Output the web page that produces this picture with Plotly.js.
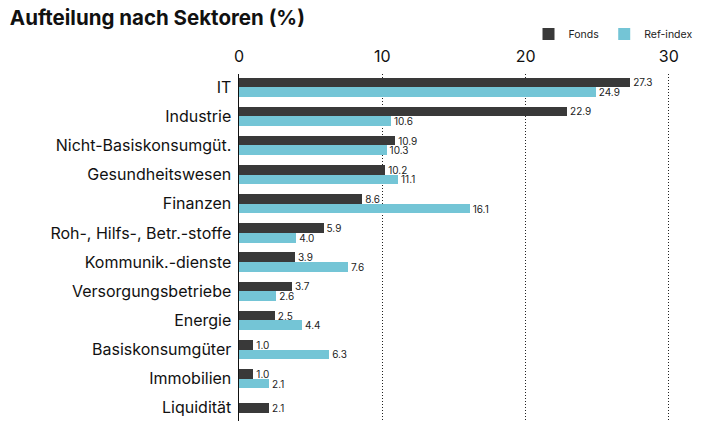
<!DOCTYPE html>
<html><head><meta charset="utf-8">
<script src="https://cdn.plot.ly/plotly-3.0.1.min.js"></script>
<style>body{margin:0;background:#fff}</style>
</head><body><div id="chart" style="width:704px;height:428px"></div>
<script>
const categories = ["IT","Industrie","Nicht-Basiskonsumgüt.","Gesundheitswesen","Finanzen","Roh-, Hilfs-, Betr.-stoffe","Kommunik.-dienste","Versorgungsbetriebe","Energie","Basiskonsumgüter","Immobilien","Liquidität"];
const fonds = [27.3,22.9,10.9,10.2,8.6,5.9,3.9,3.7,2.5,1.0,1.0,2.1];
const refIndex = [24.9,10.6,10.3,11.1,16.1,4.0,7.6,2.6,4.4,6.3,2.1,null];
const xTicks = [0,10,20,30];

const W = 0.33;
const fondsOffset = refIndex.map(v => v === null ? -W/2 : -W);
const refOffset = refIndex.map(() => 0);
const fmt = a => a.map(v => v === null ? '' : v.toFixed(1));

const font = "Inter, 'Liberation Sans', sans-serif";
const traces = [
  {type:'bar', orientation:'h', name:'Fonds', y:categories, x:fonds, marker:{color:'#393939'},
   width:W, offset:fondsOffset, text:fmt(fonds), textposition:'outside', cliponaxis:false, constraintext:'none',
   textfont:{size:10, color:'#222', family:font}, hoverinfo:'x+y'},
  {type:'bar', orientation:'h', name:'Ref-index', y:categories, x:refIndex, marker:{color:'#74c5d6'},
   width:W, offset:refOffset, text:fmt(refIndex), textposition:'outside', cliponaxis:false, constraintext:'none',
   textfont:{size:10, color:'#222', family:font}, hoverinfo:'x+y'}
];
const layout = {
  width:704, height:428,
  margin:{l:239, r:16, t:74, b:7},
  paper_bgcolor:'#fff', plot_bgcolor:'#fff',
  font:{family:font, color:'#111'},
  title:{text:'<b>Aufteilung nach Sektoren (%)</b>', x:0.014, xanchor:'left', y:0.975, yanchor:'top', font:{size:20.5, color:'#111', family:font}},
  barmode:'overlay',
  showlegend:true,
  legend:{orientation:'h', x:1.035, xanchor:'right', y:1.115, yanchor:'middle', bgcolor:'rgba(0,0,0,0)',
    font:{size:10.5, color:'#222'}, itemwidth:30, traceorder:'normal', tracegroupgap:0},
  xaxis:{side:'top', range:[0,30.92], tickvals:xTicks, ticktext:xTicks.map(String), tickfont:{size:16, color:'#111'},
    ticks:'outside', ticklen:5, tickcolor:'rgba(0,0,0,0)',
    showgrid:true, gridcolor:'#222', griddash:'1px,2px', gridwidth:1, zeroline:false, showline:false, fixedrange:true},
  yaxis:{range:[11.45,-0.45], tickfont:{size:16, color:'#111'}, showline:true, linecolor:'#111', linewidth:1.5,
    ticks:'outside', ticklen:3, tickcolor:'rgba(0,0,0,0)', showgrid:false, zeroline:false, automargin:false, fixedrange:true},
  bargap:0
};
Plotly.newPlot('chart', traces, layout, {displayModeBar:false, staticPlot:true});
</script></body></html>
